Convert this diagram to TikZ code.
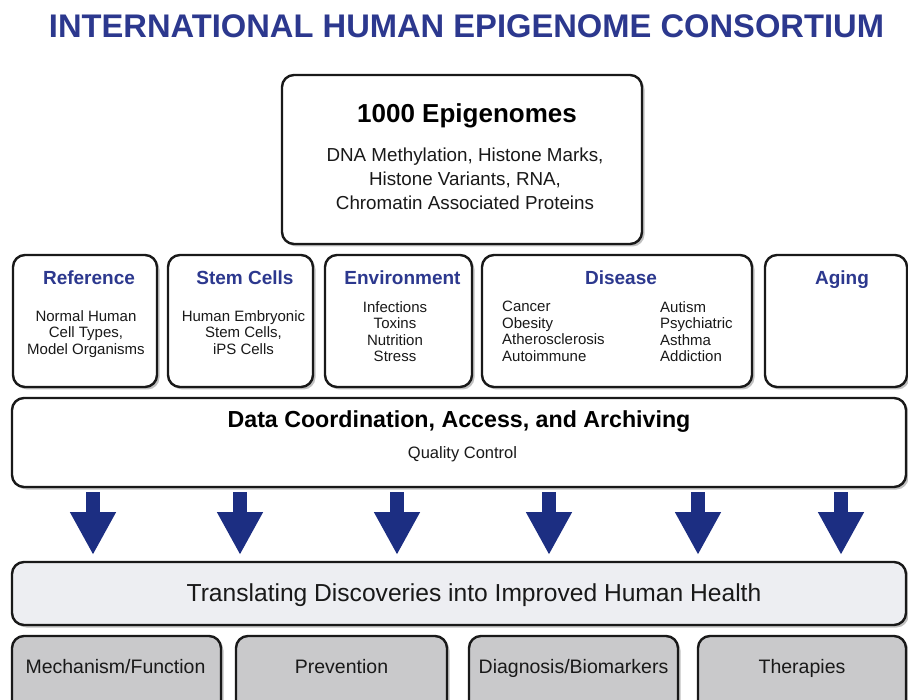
\documentclass[tikz,border=0pt]{standalone}
\usepackage{fontspec}
\setmainfont{Liberation Sans}
\usetikzlibrary{arrows.meta,shadows}

\definecolor{ihecblue}{RGB}{44,56,142}
\definecolor{arrowblue}{RGB}{28,46,130}
\definecolor{paleband}{RGB}{237,238,242}
\definecolor{greybox}{RGB}{201,201,203}
\definecolor{bodyink}{RGB}{25,25,25}

\tikzset{
	panel/.style={draw=black!90, line width=2.4pt, rounded corners=12pt, fill=white,
		drop shadow={shadow xshift=2.5pt, shadow yshift=-2.5pt, opacity=.35, fill=black!70}},
	head/.style={font=\fontsize{19}{22}\selectfont\bfseries, text=ihecblue, anchor=base, inner sep=0pt},
	body/.style={font=\fontsize{15}{16.5}\selectfont, text=bodyink, align=center, anchor=north, inner sep=0pt},
	bigarrow/.style={draw=arrowblue, line width=14pt, -{Triangle[width=43pt,length=43pt]},
		shorten <=3.8pt, shorten >=5.8pt},
	outcome/.style={panel, fill=greybox, minimum height=76pt, font=\fontsize{19.5}{22}\selectfont, text=bodyink}
}

\begin{document}
\begin{tikzpicture}[x=1pt, y=-1pt]
	\path[use as bounding box, clip] (0,0) rectangle (908,700);
	\fill[white] (0,0) rectangle (908,700);

	\node[font=\fontsize{32.7}{37}\selectfont\bfseries, text=ihecblue, anchor=base, inner sep=0pt] (title) at (466.5,38) {INTERNATIONAL HUMAN EPIGENOME CONSORTIUM};

	% top panel
	\node[panel, minimum width=360pt, minimum height=169pt] (epi) at (462,159.5) {};
	\node[font=\fontsize{26}{30}\selectfont\bfseries, anchor=base, inner sep=0pt] (epititle) at (467,123) {1000 Epigenomes};
	\node[body, font=\fontsize{18.8}{24}\selectfont] (epibody) at (465,148) {DNA Methylation, Histone Marks,\\ Histone Variants, RNA,\\ Chromatin Associated Proteins};

	% project panels
	\node[panel, minimum width=144pt, minimum height=132pt] (ref) at (85,321) {};
	\node[panel, minimum width=145pt, minimum height=132pt] (stem) at (240.5,321) {};
	\node[panel, minimum width=147pt, minimum height=132pt] (env) at (398.5,321) {};
	\node[panel, minimum width=270pt, minimum height=132pt] (dis) at (617,321) {};
	\node[panel, minimum width=142pt, minimum height=132pt] (aging) at (836,321) {};

	\node[head] (refhead) at (89,285) {Reference};
	\node[head] (stemhead) at (245,285) {Stem Cells};
	\node[head] (envhead) at (402.5,285) {Environment};
	\node[head] (dishead) at (621,285) {Disease};
	\node[head] (aginghead) at (842,285) {Aging};

	\node[body] (refbody) at (86,310) {Normal Human\\ Cell Types,\\ Model Organisms};
	\node[body] (stembody) at (243.5,310) {Human Embryonic\\ Stem Cells,\\ iPS Cells};
	\node[body] (envbody) at (395,301) {Infections\\ Toxins\\ Nutrition\\ Stress};
	\node[body, align=left, anchor=north west] (disleft) at (502,301) {Cancer\\ Obesity\\ Atherosclerosis\\ Autoimmune};
	\node[body, align=left, anchor=north west] (disright) at (660,301) {Autism\\ Psychiatric\\ Asthma\\ Addiction};

	% data band
	\node[panel, minimum width=894pt, minimum height=89pt] (data) at (459,442.5) {};
	\node[font=\fontsize{23.2}{26}\selectfont\bfseries, anchor=base, inner sep=0pt] (datatitle) at (459,428) {Data Coordination, Access, and Archiving};
	\node[font=\fontsize{16.5}{19}\selectfont, text=bodyink, anchor=base, inner sep=0pt] (qc) at (462.5,459) {Quality Control};

	% translation band
	\node[panel, fill=paleband, minimum width=894pt, minimum height=63pt] (trans) at (459,593.5) {};
	\node[font=\fontsize{24.6}{28}\selectfont, text=bodyink, anchor=base, inner sep=0pt] (transtext) at (474,601) {Translating Discoveries into Improved Human Health};

	\foreach \x in {93,240,397,549,698,841}
		\draw[bigarrow] (\x,0 |- data.south) -- (\x,0 |- trans.north);

	% outcomes
	\node[outcome, minimum width=209pt] (mech) at (116.5,674) {};
	\node[outcome, minimum width=211pt] (prev) at (341.5,674) {};
	\node[outcome, minimum width=209pt] (diag) at (573.5,674) {};
	\node[outcome, minimum width=208pt] (ther) at (802,674) {};
	\node[font=\fontsize{19.5}{22}\selectfont, text=bodyink, anchor=base, inner sep=0pt] (mechtext) at (115.5,673) {Mechanism/Function};
	\node[font=\fontsize{19.5}{22}\selectfont, text=bodyink, anchor=base, inner sep=0pt] (prevtext) at (341.5,673) {Prevention};
	\node[font=\fontsize{19.5}{22}\selectfont, text=bodyink, anchor=base, inner sep=0pt] (diagtext) at (573.5,673) {Diagnosis/Biomarkers};
	\node[font=\fontsize{19.5}{22}\selectfont, text=bodyink, anchor=base, inner sep=0pt] (thertext) at (802,673) {Therapies};
\end{tikzpicture}
\end{document}
